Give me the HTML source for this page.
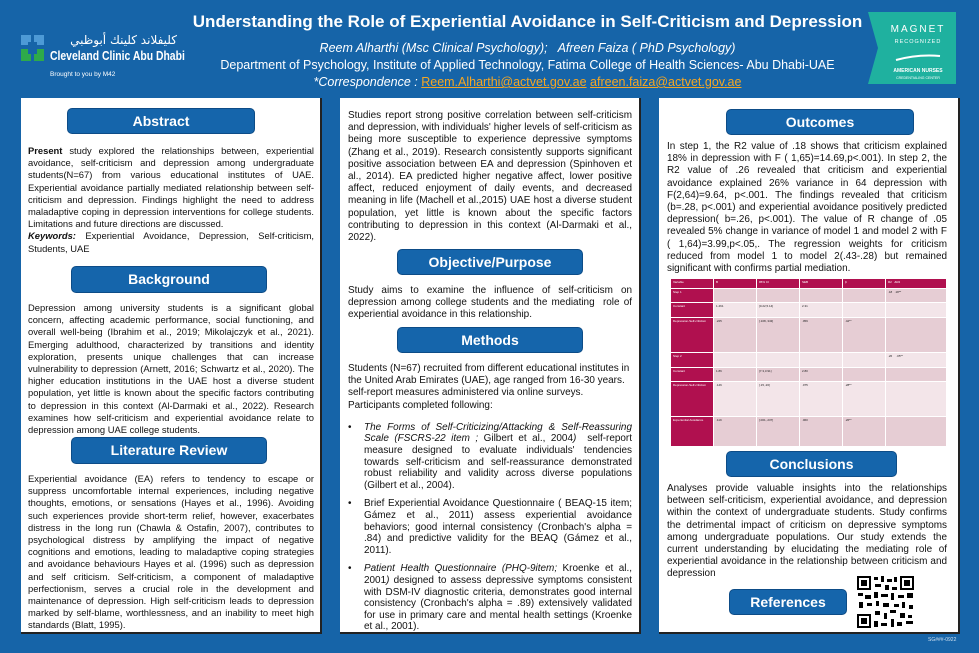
<!DOCTYPE html>
<html><head><meta charset="utf-8">
<style>
*{margin:0;padding:0;box-sizing:border-box}
body{width:979px;height:653px;background:#1664a8;font-family:"Liberation Sans",Arial,sans-serif;position:relative;overflow:hidden;color:#111}
.abs{position:absolute}
.panel{position:absolute;background:#fff;border-right:2px solid #222;border-bottom:2px solid #222;top:98px;height:536px;width:301px}
.btn{position:absolute;background:#1565ab;border:1px solid #0d4c87;border-radius:5px;color:#fff;font-weight:bold;font-size:14px;text-align:center;line-height:24px}
.txt{position:absolute;font-size:9.4px;line-height:12.2px;text-align:justify}
.big{font-size:9.95px}
.hdr{position:absolute;color:#fff;text-align:center;width:979px;left:38px}
ul{list-style:none}
li{position:relative;padding-left:16px;margin-bottom:7px;line-height:11.6px}
li:before{content:"•";position:absolute;left:0}
table{border-collapse:separate;border-spacing:1px;font-size:3px;color:#222}
td{vertical-align:top;padding:1px 2px}
</style></head><body>
<!-- header -->
<div class="abs" style="left:21px;top:35px;width:170px;height:45px">
 <svg width="24" height="28" style="position:absolute;left:0;top:0">
  <rect x="0" y="0" width="10" height="10" fill="#4d9ad6"/><rect x="13" y="0" width="10" height="10" fill="#4d9ad6"/>
  <rect x="0" y="14" width="10" height="12" fill="#2eaa4a"/><rect x="13" y="14" width="10" height="12" fill="#2eaa4a"/>
  <rect x="7" y="7" width="9" height="12" fill="#1664a8"/>
 </svg>
 <div class="abs" style="left:29px;top:-2px;width:127px;color:#fff;font-family:'DejaVu Sans',sans-serif;font-size:12px;white-space:nowrap;text-align:right" dir="rtl">كليفلاند كلينك أبوظبي</div>
 <div class="abs" style="left:29px;top:13px;color:#fff;font-weight:bold;font-size:13px;white-space:nowrap;transform:scaleX(0.8);transform-origin:left">Cleveland Clinic Abu Dhabi</div>
 <div class="abs" style="left:29px;top:36px;color:#fff;font-size:6.5px;white-space:nowrap">Brought to you by M42</div>
</div>
<div class="hdr" style="top:12px;font-size:17px;font-weight:bold">Understanding the Role of Experiential Avoidance in Self-Criticism and Depression</div>
<div class="hdr" style="top:41px;font-size:12.5px;font-style:italic">Reem Alharthi (Msc Clinical Psychology);&nbsp;&nbsp; Afreen Faiza ( PhD Psychology)</div>
<div class="hdr" style="top:58px;font-size:12.5px">Department of Psychology, Institute of Applied Technology, Fatima College of Health Sciences- Abu Dhabi-UAE</div>
<div class="hdr" style="top:75px;font-size:12.5px;font-style:italic">*Correspondence : <span style="color:#f5a623;text-decoration:underline;font-style:normal">Reem.Alharthi@actvet.gov.ae</span> <span style="color:#f5a623;text-decoration:underline;font-style:normal">afreen.faiza@actvet.gov.ae</span></div>
<div class="abs" style="left:868px;top:12px;width:88px;height:72px">
 <svg width="88" height="72"><polygon points="0,0 88,0 88,72 0,72 10,36" fill="#1fb19f"/>
 <text x="50" y="20" fill="#fff" font-size="10" font-family="Liberation Sans" text-anchor="middle" letter-spacing="2">MAGNET</text>
 <text x="50" y="31" fill="#fff" font-size="5.5" font-family="Liberation Sans" text-anchor="middle" letter-spacing="1">RECOGNIZED</text>
 <path d="M28 48 Q50 42 72 44" stroke="#fff" stroke-width="2" fill="none"/>
 <text x="50" y="60" fill="#fff" font-size="5" font-family="Liberation Sans" text-anchor="middle" font-weight="bold">AMERICAN NURSES</text>
 <text x="50" y="67" fill="#fff" font-size="3.5" font-family="Liberation Sans" text-anchor="middle">CREDENTIALING CENTER</text></svg>
</div>

<!-- left panel -->
<div class="panel" style="left:21px"></div>
<div class="btn" style="left:67px;top:108px;width:188px;height:26px">Abstract</div>
<div class="txt" style="left:28px;top:145px;width:286px"><b>Present</b> study explored the relationships between, experiential avoidance, self-criticism and depression among undergraduate students(N=67) from various educational institutes of UAE. Experiential avoidance partially mediated relationship between self-criticism and depression. Findings highlight the need to address maladaptive coping in depression interventions for college students. Limitations and future directions are discussed.<br><b><i>Keywords:</i></b> Experiential Avoidance, Depression, Self-criticism, Students, UAE</div>
<div class="btn" style="left:71px;top:266px;width:196px;height:27px;line-height:25px">Background</div>
<div class="txt" style="left:28px;top:302px;width:286px">Depression among university students is a significant global concern, affecting academic performance, social functioning, and overall well-being (Ibrahim et al., 2019; Mikolajczyk et al., 2021). Emerging adulthood, characterized by transitions and identity exploration, presents unique challenges that can increase vulnerability to depression (Arnett, 2016; Schwartz et al., 2020). The higher education institutions in the UAE host a diverse student population, yet little is known about the specific factors contributing to depression in this context (Al-Darmaki et al., 2022). Research examines how self-criticism and experiential avoidance relate to depression among UAE college students.</div>
<div class="btn" style="left:71px;top:437px;width:196px;height:27px;line-height:25px">Literature Review</div>
<div class="txt" style="left:28px;top:473px;width:286px">Experiential avoidance (EA) refers to tendency to escape or suppress uncomfortable internal experiences, including negative thoughts, emotions, or sensations (Hayes et al., 1996). Avoiding such experiences provide short-term relief, however, exacerbates distress in the long run (Chawla &amp; Ostafin, 2007), contributes to psychological distress by amplifying the impact of negative cognitions and emotions, leading to maladaptive coping strategies and avoidance behaviours Hayes et al. (1996) such as depression and self criticism. Self-criticism, a component of maladaptive perfectionism, serves a crucial role in the development and maintenance of depression. High self-criticism leads to depression marked by self-blame, worthlessness, and an inability to meet high standards (Blatt, 1995).</div>

<!-- middle panel -->
<div class="panel" style="left:340px"></div>
<div class="txt big" style="left:348px;top:110px;width:284px">Studies report strong positive correlation between self-criticism and depression, with individuals' higher levels of self-criticism as being more susceptible to experience depressive symptoms (Zhang et al., 2019). Research consistently supports significant positive association between EA and depression (Spinhoven et al., 2014). EA predicted higher negative affect, lower positive affect, reduced enjoyment of daily events, and decreased meaning in life (Machell et al.,2015) UAE host a diverse student population, yet little is known about the specific factors contributing to depression in this context (Al-Darmaki et al., 2022).</div>
<div class="btn" style="left:397px;top:249px;width:186px;height:26px">Objective/Purpose</div>
<div class="txt big" style="left:348px;top:285px;width:284px">Study aims to examine the influence of self-criticism on depression among college students and the mediating&nbsp; role of experiential avoidance in this relationship.</div>
<div class="btn" style="left:397px;top:327px;width:186px;height:26px">Methods</div>
<div class="txt big" style="left:348px;top:363px;width:284px;text-align:left">Students (N=67) recruited from different educational institutes in the United Arab Emirates (UAE), age ranged from 16-30 years. self-report measures administered via online surveys.<br>Participants completed following:
<ul style="margin-top:10px;text-align:justify">
<li><i>The Forms of Self-Criticizing/Attacking &amp; Self-Reassuring Scale (FSCRS-22 item ;</i> Gilbert et al., 2004<i>)</i>&nbsp; self-report measure designed to evaluate individuals' tendencies towards self-criticism and self-reassurance demonstrated robust reliability and validity across diverse populations (Gilbert et al., 2004).</li>
<li>Brief Experiential Avoidance Questionnaire ( BEAQ-15 item; Gámez et al., 2011) assess experiential avoidance behaviors; good internal consistency (Cronbach's alpha = .84) and predictive validity for the BEAQ (Gámez et al., 2011).</li>
<li><i>Patient Health Questionnaire (PHQ-9item;</i> Kroenke et al., 2001<i>)</i> designed to assess depressive symptoms consistent with DSM-IV diagnostic criteria, demonstrates good internal consistency (Cronbach's alpha = .89) extensively validated for use in primary care and mental health settings (Kroenke et al., 2001).</li>
</ul></div>

<!-- right panel -->
<div class="panel" style="left:659px"></div>
<div class="btn" style="left:726px;top:109px;width:188px;height:26px">Outcomes</div>
<div class="txt big" style="left:667px;top:141px;width:280px">In step 1, the R2 value of .18 shows that criticism explained 18% in depression with F ( 1,65)=14.69,p&lt;.001). In step 2, the R2 value of .26 revealed that criticism and experiential avoidance explained 26% variance in 64 depression with F(2,64)=9.64, p&lt;.001. The findings revealed that criticism (b=.28, p&lt;.001) and experiential avoidance positively predicted depression( b=.26, p&lt;.001). The value of R change of .05 revealed 5% change in variance of model 1 and model 2 with F ( 1,64)=3.99,p&lt;.05,. The regression weights for criticism reduced from model 1 to model 2(.43-.28) but remained significant with confirms partial mediation.</div>
<div class="abs" style="left:670px;top:278px;width:277px;height:163px">
<table style="width:277px;height:163px">
<colgroup><col style="width:42px"><col style="width:42px"><col style="width:42px"><col style="width:42px"><col style="width:42px"><col></colgroup>
<tr style="height:9px;background:#b0104f;color:#fff"><td>Variable</td><td>B</td><td>95% CI</td><td>SEB</td><td>β</td><td>R2 &nbsp; ΔR2</td></tr>
<tr style="height:13px;background:#e6cdd4"><td style="background:#b0104f;color:#fff">Step 1</td><td></td><td></td><td></td><td></td><td>.18 &nbsp; .18**</td></tr>
<tr style="height:14px;background:#f3e5e9"><td style="background:#b0104f;color:#fff">Constant</td><td>1.461</td><td>[0.22,5.14]</td><td>2.31</td><td></td><td></td></tr>
<tr style="height:34px;background:#e6cdd4"><td style="background:#b0104f;color:#fff">Depression-Self-criticism</td><td>.225</td><td>[.108,.343]</td><td>.059</td><td>.42**</td><td></td></tr>
<tr style="height:14px;background:#f3e5e9"><td style="background:#b0104f;color:#fff">Step 2</td><td></td><td></td><td></td><td></td><td>.26 &nbsp; &nbsp; .05**</td></tr>
<tr style="height:13px;background:#e6cdd4"><td style="background:#b0104f;color:#fff">Constant</td><td>1.86</td><td>[7.3,3.91]</td><td>2.80</td><td></td><td></td></tr>
<tr style="height:34px;background:#f3e5e9"><td style="background:#b0104f;color:#fff">Depression-Self-criticism</td><td>.146</td><td>[.15,.26]</td><td>.075</td><td>.28**</td><td></td></tr>
<tr style="height:29px;background:#e6cdd4"><td style="background:#b0104f;color:#fff">Experiential Avoidance</td><td>.119</td><td>[.001,.237]</td><td>.060</td><td>.26**</td><td></td></tr>
</table></div>
<div class="btn" style="left:726px;top:451px;width:171px;height:26px">Conclusions</div>
<div class="txt big" style="left:667px;top:483px;width:280px">Analyses provide valuable insights into the relationships between self-criticism, experiential avoidance, and depression within the context of undergraduate students. Study confirms the detrimental impact of criticism on depressive symptoms among undergraduate populations. Our study extends the current understanding by elucidating the mediating role of experiential avoidance in the relationship between criticism and depression</div>
<div class="btn" style="left:729px;top:589px;width:118px;height:26px">References</div>
<svg class="abs" style="left:856px;top:575px" width="59" height="54" viewBox="0 0 59 54">
 <rect width="59" height="54" fill="#fff"/>
 <g fill="#000">
 <rect x="1" y="1" width="14" height="14"/><rect x="3" y="3" width="10" height="10" fill="#fff"/><rect x="5" y="5" width="6" height="6"/>
 <rect x="44" y="1" width="14" height="14"/><rect x="46" y="3" width="10" height="10" fill="#fff"/><rect x="48" y="5" width="6" height="6"/>
 <rect x="1" y="39" width="14" height="14"/><rect x="3" y="41" width="10" height="10" fill="#fff"/><rect x="5" y="43" width="6" height="6"/>
 <rect x="18" y="2" width="4" height="3"/><rect x="25" y="1" width="3" height="6"/><rect x="31" y="4" width="5" height="3"/><rect x="38" y="2" width="3" height="5"/>
 <rect x="19" y="9" width="6" height="3"/><rect x="29" y="10" width="4" height="5"/><rect x="36" y="12" width="5" height="3"/>
 <rect x="2" y="18" width="5" height="3"/><rect x="9" y="20" width="6" height="4"/><rect x="18" y="17" width="4" height="6"/><rect x="25" y="19" width="7" height="3"/><rect x="35" y="18" width="3" height="7"/><rect x="42" y="20" width="6" height="3"/><rect x="51" y="18" width="6" height="5"/>
 <rect x="3" y="27" width="4" height="6"/><rect x="11" y="28" width="5" height="3"/><rect x="20" y="26" width="3" height="5"/><rect x="27" y="28" width="6" height="4"/><rect x="38" y="29" width="5" height="3"/><rect x="46" y="27" width="3" height="6"/><rect x="53" y="30" width="4" height="4"/>
 <rect x="19" y="36" width="5" height="4"/><rect x="28" y="38" width="3" height="6"/><rect x="34" y="35" width="6" height="3"/><rect x="44" y="38" width="5" height="5"/><rect x="52" y="40" width="4" height="3"/>
 <rect x="18" y="46" width="4" height="6"/><rect x="25" y="48" width="6" height="3"/><rect x="35" y="44" width="3" height="8"/><rect x="41" y="47" width="5" height="4"/><rect x="50" y="46" width="7" height="3"/>
 </g></svg>
<div class="abs" style="left:928px;top:637px;color:#cfe0f0;font-size:5px">SG###-0922</div>
</body></html>
